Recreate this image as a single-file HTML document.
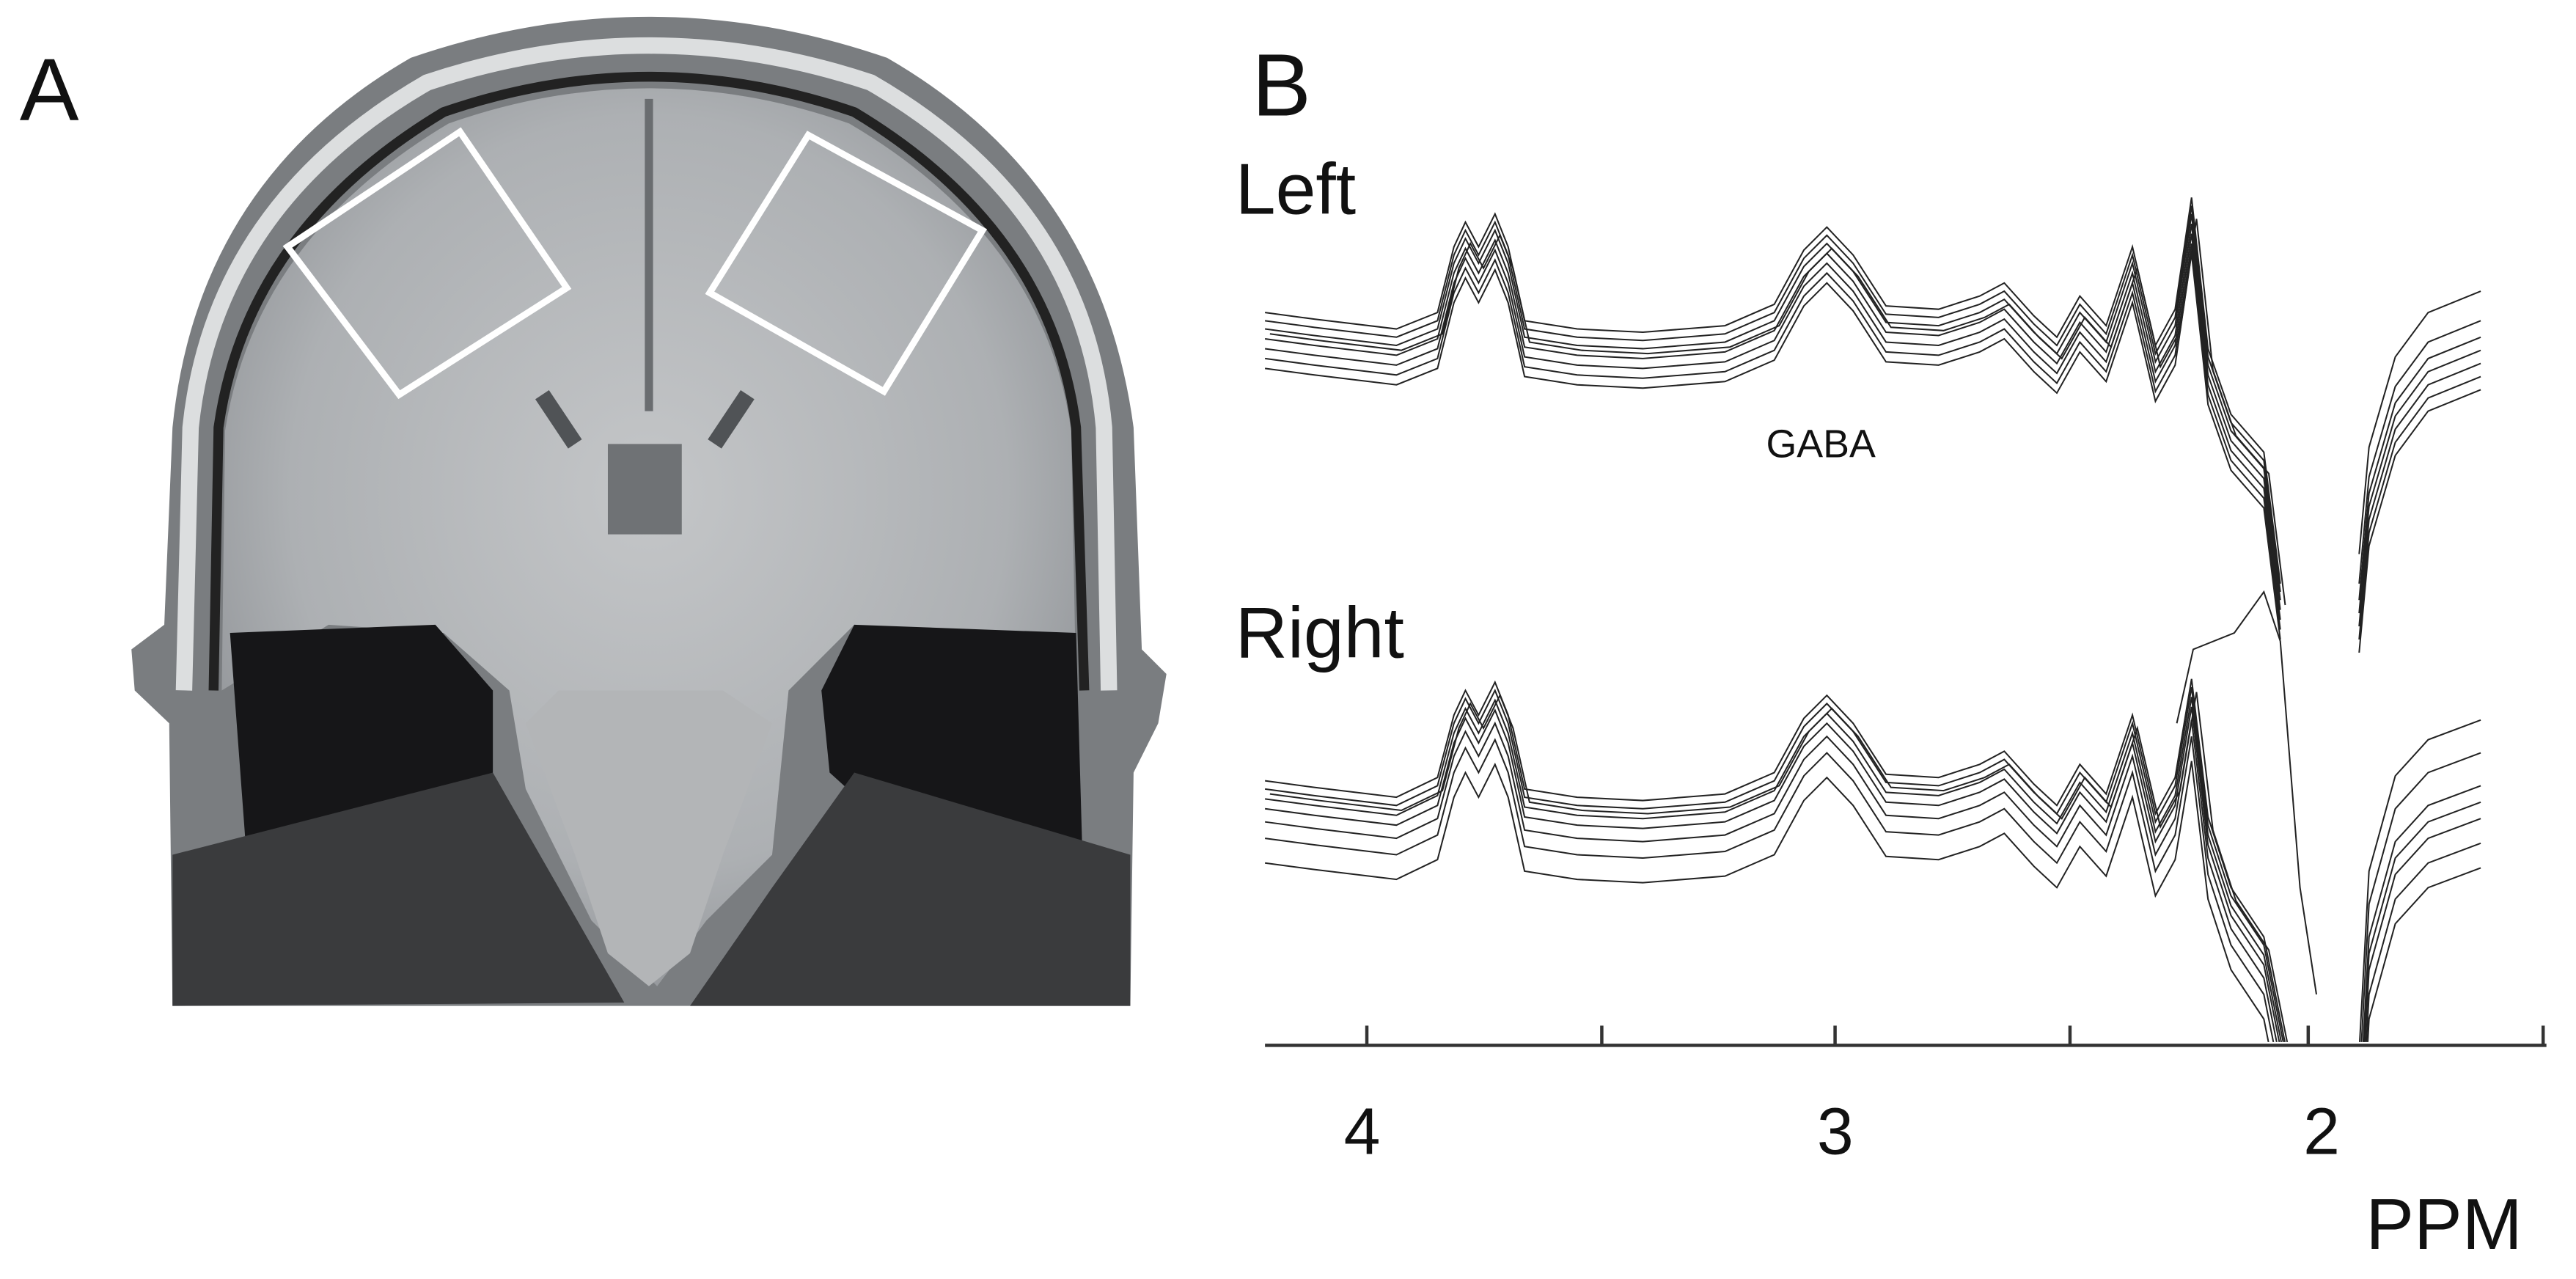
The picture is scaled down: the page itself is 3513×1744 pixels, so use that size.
<!DOCTYPE html>
<html><head><meta charset="utf-8"><style>
html,body{margin:0;padding:0;background:#fff;}
svg{display:block;}
text{font-family:"Liberation Sans",Arial,sans-serif;fill:#111;}
</style></head><body>
<svg width="3513" height="1744" viewBox="0 0 1568 778" xmlns="http://www.w3.org/2000/svg">
<defs>
<radialGradient id="bg" cx="0.5" cy="0.45" r="0.6">
<stop offset="0" stop-color="#c4c6c8"/><stop offset="0.7" stop-color="#adb0b3"/><stop offset="1" stop-color="#8e9195"/>
</radialGradient>
<clipPath id="ax"><rect x="700" y="0" width="900" height="634"/></clipPath>
<path id="sL" d="M770,200 L800,204 L850,210 L875,200 L885,160 L892,145 L900,160 L910,140 L918,160 L928,205 L960,210 L1000,212 L1050,208 L1080,195 L1098,162 L1112,148 L1128,165 L1148,196 L1180,198 L1205,190 L1220,182 L1238,202 L1252,215 L1266,190 L1282,208 L1298,160 L1312,220 L1324,198 L1334,130 L1344,222 L1358,262 L1378,285 L1388,365" fill="none" stroke="#222" stroke-width="0.9"/>
<path id="sL2" d="M1436,365 L1442,300 L1458,245 L1478,218 L1510,205" fill="none" stroke="#222" stroke-width="0.9"/>
<path id="sR" d="M770,480 L800,484 L850,490 L875,478 L885,440 L892,425 L900,440 L910,420 L918,440 L928,485 L960,490 L1000,492 L1050,488 L1080,475 L1098,442 L1112,428 L1128,445 L1148,476 L1180,478 L1205,470 L1220,462 L1238,482 L1252,495 L1266,470 L1282,488 L1298,440 L1312,500 L1324,478 L1334,418 L1344,502 L1358,545 L1378,575 L1395,660" fill="none" stroke="#222" stroke-width="0.9"/>
<path id="sR2" d="M1436,680 L1442,570 L1458,512 L1478,490 L1510,478" fill="none" stroke="#222" stroke-width="0.9"/>
</defs>

<text x="12" y="73" font-size="54">A</text>
<text x="762" y="70" font-size="54">B</text>
<text x="752" y="130" font-size="44">Left</text>
<text x="752" y="400" font-size="44">Right</text>
<text x="1075" y="278" font-size="24">GABA</text>

<!-- brain -->
<path d="M105,612 L103,440 L82,420 L80,395 L100,380 L105,260 Q120,110 250,35 Q395,-15 540,35 Q670,110 690,260 L695,395 L710,410 L705,440 L690,470 L688,612 Z" fill="#7a7d80"/>
<path d="M112,420 L116,260 Q130,125 260,50 Q395,5 530,50 Q660,125 672,260 L675,420" fill="none" stroke="#dcdedf" stroke-width="10"/>
<path d="M130,420 L133,260 Q150,140 270,68 Q395,25 520,68 Q640,140 655,260 L660,420" fill="none" stroke="#222" stroke-width="6"/>
<path d="M135,420 L137,262 Q155,145 273,75 Q395,32 517,75 Q636,145 652,262 L655,420 L600,390 L520,380 L480,420 L470,520 L430,560 L400,600 L360,560 L320,480 L310,420 L270,385 L200,380 Z" fill="url(#bg)"/>
<path d="M140,385 L265,380 L300,420 L300,470 L260,510 L210,520 L150,520 Z" fill="#161618"/>
<path d="M520,380 L655,385 L660,560 L610,560 L560,520 L505,470 L500,420 Z" fill="#161618"/>
<path d="M105,520 L300,470 L340,540 L380,610 L105,612 Z" fill="#3a3b3d"/>
<path d="M470,540 L520,470 L688,520 L688,612 L420,612 Z" fill="#3a3b3d"/>
<path d="M320,440 L340,420 L440,420 L470,440 L440,520 L420,580 L395,600 L370,580 L350,520 Z" fill="#b3b5b7"/>
<rect x="370" y="270" width="45" height="55" fill="#6f7275"/>
<path d="M395,60 L395,250" stroke="#6a6d70" stroke-width="5"/>
<path d="M330,240 L350,270 M455,240 L435,270" stroke="#505356" stroke-width="10"/>
<g fill="none" stroke="#fff" stroke-width="4">
<path d="M175,150 L280,80 L345,175 L243,240 Z"/>
<path d="M432,178 L492,82 L598,140 L538,238 Z"/>
</g>

<!-- spectra -->
<g>
<use href="#sL"/><use href="#sL" transform="translate(0,6)"/><use href="#sL" transform="translate(0,-5)"/><use href="#sL" transform="translate(0,12)"/><use href="#sL" transform="translate(0,18)"/><use href="#sL" transform="translate(0,-10)"/><use href="#sL" transform="translate(0,24)"/><use href="#sL" transform="translate(3,3)"/>
<use href="#sL2"/><use href="#sL2" transform="translate(0,8)"/><use href="#sL2" transform="translate(0,16)"/><use href="#sL2" transform="translate(0,-10)"/><use href="#sL2" transform="translate(0,24)"/><use href="#sL2" transform="translate(0,32)"/><use href="#sL2" transform="translate(0,-28)"/>
</g>
<g clip-path="url(#ax)">
<use href="#sR"/><use href="#sR" transform="translate(0,6)"/><use href="#sR" transform="translate(0,-5)"/><use href="#sR" transform="translate(0,12)"/><use href="#sR" transform="translate(0,20)"/><use href="#sR" transform="translate(0,30)"/><use href="#sR" transform="translate(0,45)"/><use href="#sR" transform="translate(3,3)"/>
<use href="#sR2"/><use href="#sR2" transform="translate(0,10)"/><use href="#sR2" transform="translate(0,20)"/><use href="#sR2" transform="translate(0,-20)"/><use href="#sR2" transform="translate(0,35)"/><use href="#sR2" transform="translate(0,50)"/><use href="#sR2" transform="translate(0,-40)"/>
<path d="M1325,440 L1335,395 L1360,385 L1378,360 L1388,390 L1400,540 L1410,605" fill="none" stroke="#222" stroke-width="0.9"/>
</g>

<!-- axis -->
<g stroke="#333" stroke-width="2">
<line x1="770" y1="636" x2="1550" y2="636"/>
<line x1="832" y1="636" x2="832" y2="624"/><line x1="975" y1="636" x2="975" y2="624"/><line x1="1117" y1="636" x2="1117" y2="624"/><line x1="1260" y1="636" x2="1260" y2="624"/><line x1="1405" y1="636" x2="1405" y2="624"/><line x1="1548" y1="636" x2="1548" y2="624"/>
</g>
<text x="818" y="702" font-size="40">4</text>
<text x="1106" y="702" font-size="40">3</text>
<text x="1402" y="702" font-size="40">2</text>
<text x="1440" y="760" font-size="44">PPM</text>
</svg>
</body></html>
